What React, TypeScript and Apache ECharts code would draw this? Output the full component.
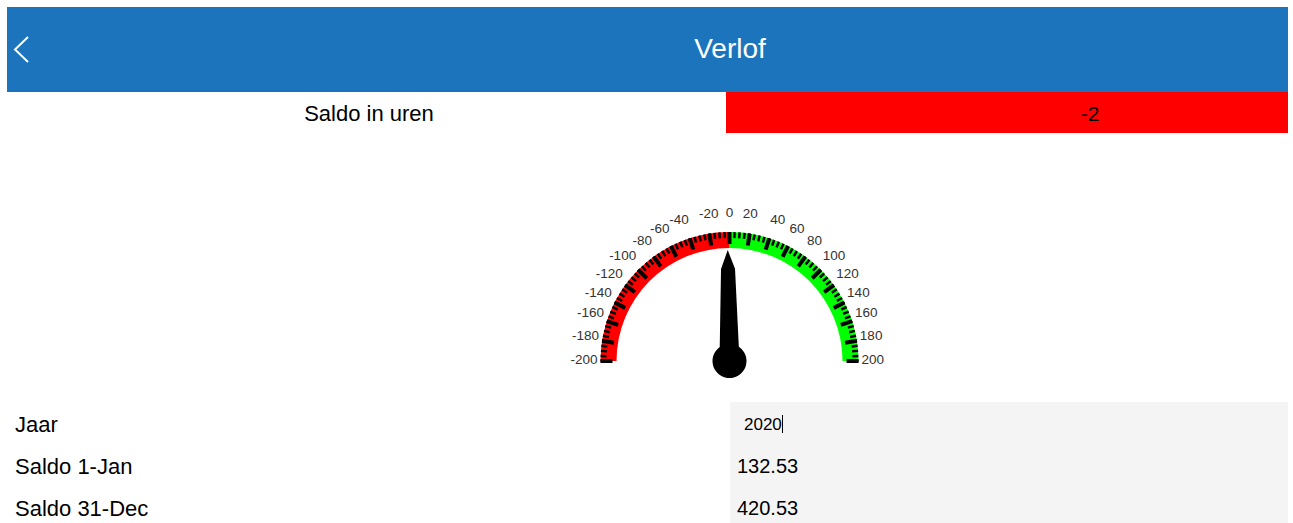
import React, { useEffect, useRef } from "react";
import * as echarts from "echarts";

const pageTitle = "Verlof";
const saldoLabel = "Saldo in uren";
const saldoValue = [-2];
const gaugeMin = -200;
const gaugeMax = 200;
const gaugeStep = 20;
const gaugeBands = [
  [0.5, "#ff0000"],
  [1, "#00ff00"],
];
const rowLabels = ["Jaar", "Saldo 1-Jan", "Saldo 31-Dec"];
const rowValues = ["2020", "132.53", "420.53"];

const FONT = "'Liberation Sans', Arial, sans-serif";
const CX = 729.5;
const CY = 361;
const R = 129;

export default function App() {
  const ref = useRef<HTMLDivElement>(null);
  useEffect(() => {
    document.body.style.margin = "0";
    document.body.style.overflow = "hidden";
    const chart = echarts.init(ref.current!, undefined, { renderer: "svg" });
    const rowY = [424, 466, 508];
    const graphics: any[] = [
      { type: "rect", shape: { x: 7, y: 7, width: 1281, height: 85 }, style: { fill: "#1c75bc" } },
      {
        type: "polyline",
        shape: { points: [[28, 37], [15, 49.5], [28, 62]] },
        style: { stroke: "#ffffff", lineWidth: 2, fill: null },
      },
      {
        type: "text",
        x: 730,
        y: 48,
        style: { text: pageTitle, fill: "#ffffff", font: `28px ${FONT}`, align: "center", verticalAlign: "middle" },
      },
      {
        type: "text",
        x: 369,
        y: 113,
        style: { text: saldoLabel, fill: "#000", font: `22px ${FONT}`, align: "center", verticalAlign: "middle" },
      },
      { type: "rect", shape: { x: 726, y: 92, width: 562, height: 41 }, style: { fill: saldoValue[0] < 0 ? "#ff0000" : "#00ff00" } },
      {
        type: "text",
        x: 1090,
        y: 113,
        style: { text: String(saldoValue[0]), fill: "#000", font: `21px ${FONT}`, align: "center", verticalAlign: "middle" },
      },
      { type: "rect", shape: { x: 730, y: 402, width: 558, height: 121 }, style: { fill: "#f4f4f4" } },
    ];
    rowLabels.forEach((l, i) => {
      graphics.push({
        type: "text",
        x: 15,
        y: rowY[i],
        style: { text: l, fill: "#000", font: `22px ${FONT}`, align: "left", verticalAlign: "middle" },
      });
      graphics.push({
        type: "text",
        x: i === 0 ? 744 : 737,
        y: rowY[i],
        style: {
          text: rowValues[i],
          fill: "#000",
          font: `${i === 0 ? 17 : 20}px ${FONT}`,
          align: "left",
          verticalAlign: "middle",
        },
      });
    });
    graphics.push({
      type: "line",
      shape: { x1: 782.5, y1: 415, x2: 782.5, y2: 433 },
      style: { stroke: "#000", lineWidth: 1 },
    });

    // rich styles lifting labels a little off the arc
    const rich: any = {};
    for (let n = 0; n <= 12; n++) {
      rich["u" + n] = { fontSize: 13.5, fontFamily: FONT, color: "#333", padding: [0, 0, n, 0] };
    }
    const span = gaugeMax - gaugeMin;

    chart.setOption({
      animation: false,
      graphic: graphics,
      polar: { center: [CX, CY], radius: R },
      radiusAxis: { show: false, min: 0, max: 1 },
      angleAxis: {
        type: "value",
        startAngle: 180,
        clockwise: true,
        min: gaugeMin,
        max: gaugeMin + span * 2,
        interval: gaugeStep,
        axisLine: { show: false },
        axisTick: { show: false },
        splitLine: { show: false },
        axisLabel: {
          margin: 3,
          fontSize: 13.5,
          fontFamily: FONT,
          color: "#333",
          rich,
          formatter: (v: number) => {
            if (v > gaugeMax) return "";
            const phi = ((v - gaugeMin) / span) * Math.PI; // 0 at left, PI at right
            const s = Math.sin(phi);
            const phiDeg = Math.min(phi, Math.PI - phi) * 180 / Math.PI;
            let n: number;
            if (s * 132 / R < 0.3) n = Math.round(2 * (2 + phiDeg / 3));
            else n = Math.round(10 * s * s);
            return `{u${Math.min(12, n)}|${v}}`;
          },
        },
      },
      series: [
        {
          type: "gauge",
          center: [CX, CY],
          radius: R,
          startAngle: 180,
          endAngle: 0,
          min: gaugeMin,
          max: gaugeMax,
          splitNumber: span / gaugeStep,
          axisLine: { lineStyle: { width: 16, color: gaugeBands } },
          axisTick: { splitNumber: 4, length: 6, distance: -16, lineStyle: { color: "#000", width: 2.5 } },
          splitLine: { length: 12, distance: -16, lineStyle: { color: "#000", width: 4 } },
          axisLabel: { show: false },
          pointer: {
            icon: "path://M50 0 L85 17 L100 100 L0 100 L15 17 Z",
            width: 20,
            length: "86%",
            itemStyle: { color: "#000" },
          },
          anchor: { show: true, showAbove: true, size: 34, itemStyle: { color: "#000", borderWidth: 0 } },
          title: { show: false },
          detail: { show: false },
          data: [{ value: saldoValue[0] }],
        },
      ],
    });
    return () => chart.dispose();
  }, []);
  return <div ref={ref} style={{ width: 1293, height: 523 }} />;
}
